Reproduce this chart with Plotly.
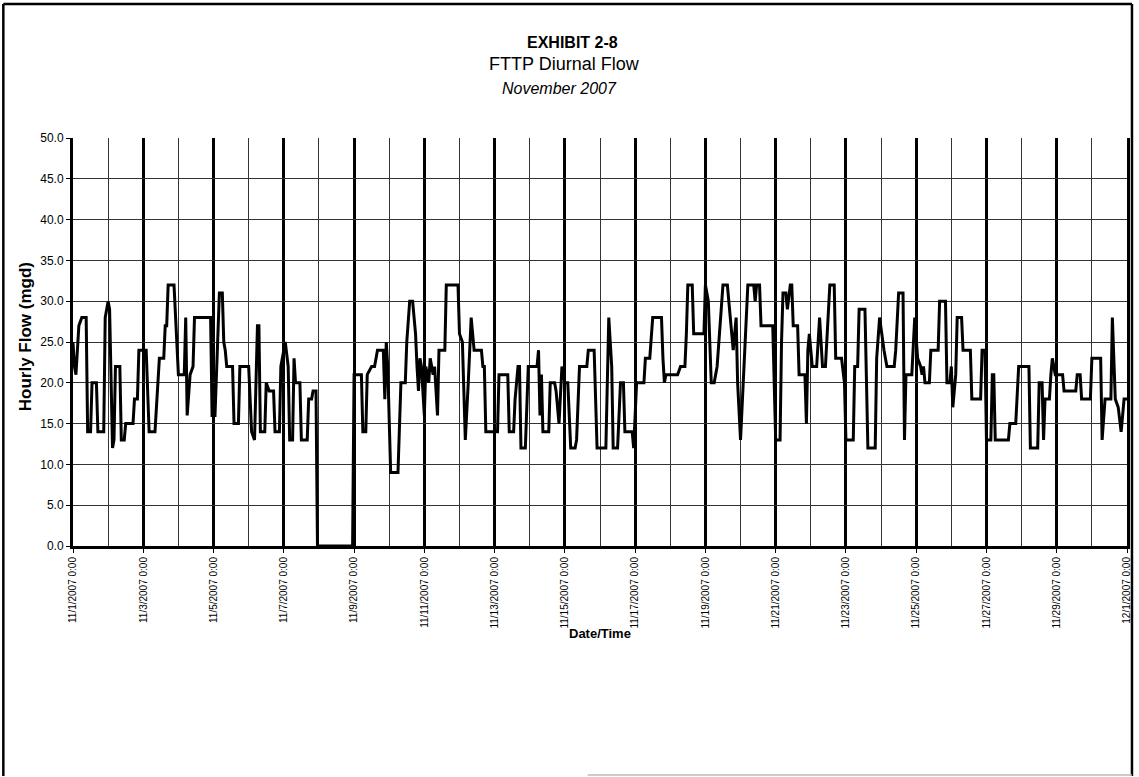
import pandas as pd
import plotly.graph_objects as go

# hourly flow readings (breakpoints), hours after 11/1/2007 0:00
hours = [
    0, 1, 2, 3, 4, 6, 9, 10, 12, 13, 16, 17, 21, 22, 24, 25, 27, 28, 29, 32,
    33, 35, 36, 41, 42, 44, 45, 50, 52, 56, 57, 58, 59, 62, 63, 64, 65, 69, 70, 71,
    72, 76, 77, 78, 80, 82, 83, 94, 95, 97, 98, 99, 100, 102, 103, 104, 105, 109, 110, 113,
    114, 120, 122, 124, 126, 127, 128, 131, 132, 134, 137, 138, 141, 142, 145, 147, 148, 150, 151, 152,
    155, 156, 160, 161, 163, 164, 166, 167, 191, 192, 197, 198, 200, 201, 204, 206, 208, 212, 213, 214,
    215, 217, 222, 224, 227, 228, 230, 232, 234, 235, 236, 237, 238, 240, 241, 243, 244, 246, 247, 249,
    250, 254, 255, 263, 264, 266, 268, 270, 272, 273, 274, 279, 280, 281, 282, 290, 291, 297, 298, 301,
    302, 304, 305, 306, 309, 311, 317, 318, 319, 320, 321, 325, 326, 329, 330, 331, 332, 334, 336, 338,
    340, 343, 344, 346, 351, 352, 356, 357, 358, 364, 366, 368, 369, 372, 374, 376, 377, 382, 383, 385,
    390, 391, 394, 396, 402, 403, 404, 405, 413, 415, 418, 419, 420, 423, 424, 431, 432, 434, 436, 438,
    440, 444, 447, 449, 451, 453, 454, 456, 458, 461, 465, 466, 467, 469, 470, 478, 480, 483, 484, 485,
    487, 488, 490, 491, 492, 495, 496, 500, 501, 502, 503, 505, 508, 509, 510, 511, 512, 514, 516, 517,
    520, 521, 525, 527, 528, 533, 534, 536, 537, 541, 543, 548, 549, 551, 554, 556, 561, 562, 564, 567,
    568, 569, 573, 575, 577, 579, 580, 581, 582, 585, 586, 591, 592, 596, 597, 599, 600, 601, 603, 604,
    607, 608, 613, 614, 620, 621, 623, 624, 627, 628, 629, 630, 639, 640, 644, 645, 646, 653, 654, 659,
    660, 662, 663, 664, 667, 668, 669, 671, 676, 677, 685, 686, 688, 689, 695, 696, 702, 703, 705, 709,
    710, 712, 714, 716, 718, 720,
]
flow = [
    25, 22, 21, 24, 27, 28, 28, 14, 14, 20, 20, 14, 14, 28, 30, 29, 12, 13, 22, 22,
    13, 13, 15, 15, 18, 18, 24, 24, 14, 14, 17, 20, 23, 23, 27, 27, 32, 32, 28, 24,
    21, 21, 28, 16, 21, 22, 28, 28, 16, 16, 21, 28, 31, 31, 25, 24, 22, 22, 15, 15,
    22, 22, 14, 13, 27, 27, 14, 14, 20, 19, 19, 14, 14, 22, 25, 22, 13, 13, 23, 20,
    20, 13, 13, 18, 18, 19, 19, 0, 0, 21, 21, 14, 14, 21, 22, 22, 24, 24, 18, 25,
    22, 9, 9, 20, 20, 25, 30, 30, 26, 22, 19, 23, 22, 16, 22, 20, 23, 21, 22, 16,
    24, 24, 32, 32, 26, 25, 13, 20, 28, 26, 24, 24, 22, 22, 14, 14, 21, 21, 14, 14,
    18, 22, 22, 12, 12, 22, 22, 24, 16, 21, 14, 14, 20, 20, 19, 17, 15, 22, 20, 20,
    12, 12, 13, 22, 22, 24, 24, 18, 12, 12, 28, 22, 12, 12, 20, 20, 14, 14, 12, 20,
    20, 23, 23, 28, 28, 23, 20, 21, 21, 22, 22, 26, 32, 32, 26, 26, 32, 30, 20, 20,
    22, 32, 32, 28, 24, 28, 20, 13, 20, 32, 32, 30, 32, 32, 27, 27, 13, 13, 25, 31,
    31, 29, 32, 32, 27, 27, 21, 21, 15, 24, 26, 22, 22, 25, 28, 25, 22, 22, 28, 32,
    32, 23, 23, 20, 13, 13, 22, 22, 29, 29, 12, 12, 23, 28, 24, 22, 22, 24, 31, 31,
    13, 21, 21, 28, 23, 22, 21, 22, 20, 20, 24, 24, 30, 30, 20, 20, 22, 17, 21, 28,
    28, 24, 24, 18, 18, 24, 24, 13, 13, 21, 21, 13, 13, 15, 15, 18, 22, 22, 12, 12,
    20, 20, 13, 18, 18, 21, 23, 21, 21, 19, 19, 21, 21, 18, 18, 23, 23, 13, 18, 18,
    28, 18, 17, 14, 18, 18,
]

tick_labels = [
    "11/1/2007 0:00", "11/3/2007 0:00", "11/5/2007 0:00", "11/7/2007 0:00",
    "11/9/2007 0:00", "11/11/2007 0:00", "11/13/2007 0:00", "11/15/2007 0:00",
    "11/17/2007 0:00", "11/19/2007 0:00", "11/21/2007 0:00", "11/23/2007 0:00",
    "11/25/2007 0:00", "11/27/2007 0:00", "11/29/2007 0:00", "12/1/2007 0:00",
]
y_ticks = [0, 5, 10, 15, 20, 25, 30, 35, 40, 45, 50]

W, H = 1139, 777
L, R, T, B = 73, 7, 138, 231
pw, ph = W - L - R, H - T - B


def px(x):
    return (x - L) / pw


def py(y):
    return (H - B - y) / ph


times = pd.Timestamp("2007-11-01") + pd.to_timedelta(hours, unit="h")
tick_dates = pd.to_datetime(tick_labels, format="%m/%d/%Y %H:%M")

narrow = "Liberation Sans Narrow, Arial Narrow, Liberation Sans, Arial"

fig = go.Figure()
fig.add_trace(go.Scatter(
    x=times, y=flow, mode="lines",
    line=dict(color="black", width=3),
    showlegend=False,
))


def frame_line(x0, y0, x1, y1, color="black", width=2.5):
    return dict(type="line", xref="paper", yref="paper",
                x0=px(x0), y0=py(y0), x1=px(x1), y1=py(y1),
                line=dict(color=color, width=width), layer="above")


fig.update_layout(
    width=W, height=H,
    margin=dict(l=L, r=R, t=T, b=B),
    paper_bgcolor="white",
    plot_bgcolor="white",
    font=dict(family="Liberation Sans, Arial, sans-serif", color="black"),
    xaxis=dict(
        range=[tick_dates[0], tick_dates[-1]],
        tickvals=tick_dates, ticktext=tick_labels,
        tickangle=-90, tickfont=dict(size=10),
        ticks="outside", ticklen=4, tickcolor="black",
        showgrid=True, gridcolor="black", gridwidth=3,
        minor=dict(dtick=86400000, tick0="2007-11-01", showgrid=True,
                   gridcolor="#333333", gridwidth=1.2),
        showline=True, linecolor="black", linewidth=3,
        zeroline=False,
    ),
    yaxis=dict(
        range=[0, 50], tickvals=y_ticks, tickformat=".1f",
        tickfont=dict(size=12),
        ticks="outside", ticklen=4, tickcolor="black",
        showgrid=True, gridcolor="#333333", gridwidth=1.2,
        showline=True, linecolor="black", linewidth=3, mirror=True,
        zeroline=False,
    ),
    annotations=[
        dict(text="<b>EXHIBIT 2-8</b>", x=px(575), y=py(43), xref="paper", yref="paper",
             showarrow=False, xanchor="center", yanchor="middle",
             font=dict(size=16, family=narrow)),
        dict(text="FTTP Diurnal Flow", x=px(567), y=py(64), xref="paper", yref="paper",
             showarrow=False, xanchor="center", yanchor="middle", font=dict(size=18)),
        dict(text="<i>November 2007</i>", x=px(562), y=py(88), xref="paper", yref="paper",
             showarrow=False, xanchor="center", yanchor="middle",
             font=dict(size=16, family=narrow)),
        dict(text="<b>Hourly Flow (mgd)</b>", x=px(25), y=py(337), xref="paper", yref="paper",
             showarrow=False, textangle=-90, xanchor="center", yanchor="middle",
             font=dict(size=17)),
        dict(text="<b>Date/Time</b>", x=px(602), y=py(633), xref="paper", yref="paper",
             showarrow=False, xanchor="center", yanchor="middle", font=dict(size=13)),
    ],
    # scanned chart frame: solid top/left/right, faint partial bottom edge
    shapes=[
        frame_line(3, 4, 1137, 4),
        frame_line(3, 4, 3, 776),
        frame_line(1137, 4, 1137, 776),
        frame_line(590, 775, 1137, 775, color="#bbbbbb", width=1.5),
    ],
)

# page body has a default 8px margin; drop it so the chart sits at the origin
fig.write_html("out.html", config={"displayModeBar": False},
               post_script="document.body.style.margin='0';")
